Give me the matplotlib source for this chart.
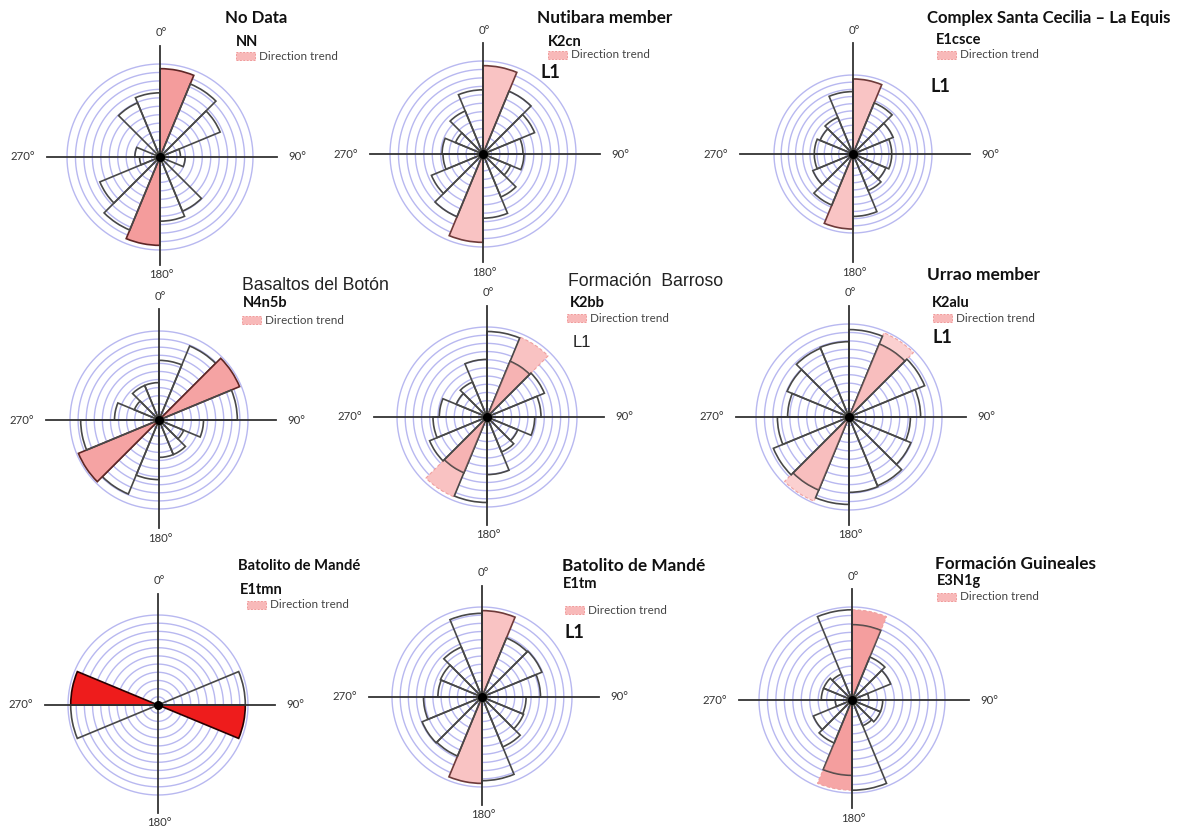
import numpy as np
import matplotlib
matplotlib.use("Agg")
import matplotlib.pyplot as plt
from matplotlib.patches import Rectangle

W, H = 1181, 831

# ---------------- data ----------------
# bins (deg) of the bidirectional rose: 0-22.5, 22.5-45, ..., 157.5-180 (mirrored at +180)
bin_starts = [0, 22.5, 45, 67.5, 90, 112.5, 135, 157.5]
bin_width = 22.5
n_rings = 11

titles = ["No Data", "Nutibara member", "Complex Santa Cecilia \u2013 La Equis",
          "Basaltos del Bot\u00f3n", "Formaci\u00f3n  Barroso", "Urrao member",
          "Batolito de Mand\u00e9", "Batolito de Mand\u00e9", "Formaci\u00f3n Guineales"]
codes = ["NN", "K2cn", "E1csce", "N4n5b", "K2bb", "K2alu", "E1tmn", "E1tm", "E3N1g"]
l1_labels = ["", "L1", "L1", "", "L1", "L1", "", "L1", ""]
deg_labels = ["0\u00b0", "90\u00b0", "180\u00b0", "270\u00b0"]
legend_label = "Direction trend"

# frequencies, % of outer ring radius
nn_vals = [95, 85, 70, 22, 27, 5, 63, 69]
k2cn_vals = [95, 73, 60, 43, 44, 32, 50, 69]
e1csce_vals = [95, 70, 55, 49, 49, 45, 50, 79]
n4n5b_vals = [67, 90, 98, 88, 50, 30, 42, 42]
k2bb_vals = [95, 67, 69, 60, 53, 37, 42, 64]
k2alu_vals = [94, 85, 88, 77, 66, 72, 80, 81]
e1tmn_vals = [0, 0, 0, 97, 97, 0, 0, 0]
e1tm_vals = [96, 71, 72, 65, 49, 50, 60, 93]
e3n1g_vals = [81, 50, 45, 18, 33, 33, 30, 97]

# trend bin index and trend sector radius (% of outer ring)
trend_bin = [0, 0, 0, 2, 1, 1, 4, 0, 0]
trend_len = [95, 95, 95, 98, 96, 98, 97, 96, 97]

values = [nn_vals, k2cn_vals, e1csce_vals, n4n5b_vals, k2bb_vals,
          k2alu_vals, e1tmn_vals, e1tm_vals, e3n1g_vals]

# ---------------- layout / style ----------------
centers = [(160, 157), (483, 154), (853, 154),
           (159, 420), (487, 417), (849, 417),
           (158, 705), (482, 697), (852, 700)]
radii = [93, 93, 79, 89, 90, 93, 90, 90, 93]
modes = ["fill", "fill", "fill", "fill", "trend", "trend", "fill", "fill", "trend"]
hl_face = ["#f49c9c", "#f9c3c3", "#f9c4c4", "#f5a3a3", "#f9c2c2",
           "#fbd0d0", "#ee1c1c", "#f9c3c3", "#f6a6a6"]
hl_edge = ["#5e2626", "#6e3a3a", "#6e3a3a", "#5e2626", "#555555",
           "#555555", "#2a0000", "#6e3a3a", "#555555"]
title_bold = [True, True, True, False, False, True, True, True, True]
title_size = [12.1, 12.4, 12.1, 12.7, 12.7, 12.5, 10.6, 12.4, 12.3]
title_pos = [(225, 18), (537, 18), (927, 18), (242, 285), (568, 281),
             (927, 275), (238, 566), (562, 566), (935, 564)]
code_pos = [(236, 42), (548, 42), (936, 40), (243, 303), (570, 303),
            (932, 303), (240, 590), (563, 584), (937, 581)]
leg_pos = [(236, 56), (548, 55), (937, 55), (242, 320), (567, 318),
           (933, 318), (247, 605), (565, 610), (937, 597)]
l1_pos = [None, (540, 72), (931, 86), None, (573, 342), (932, 337),
          None, (565, 633), None]
l1_bold = [True, True, True, False, False, True, True, True, True]

ring_color = "#b8b8f0"
bar_edge = "#484848"
axis_color = "#333333"

fig = plt.figure(figsize=(W / 100, H / 100), dpi=100)
fig.patch.set_facecolor("white")


def fx(x):
    return x / W


def fy(y):
    return 1 - y / H


SANS_BOLD = ["Lato", "DejaVu Sans"]
ARIAL = ["Liberation Sans", "DejaVu Sans"]

half = 140  # axes half size in px
theta_full = np.linspace(0, 2 * np.pi, 361)
starts = np.deg2rad(np.array(bin_starts + [b + 180 for b in bin_starts]))
wid = np.deg2rad(bin_width)

for i in range(9):
    cx, cy = centers[i]
    R = radii[i]
    scale = 100.0 / R  # data units per px
    ax = fig.add_axes([fx(cx - half), fy(cy + half), 2 * half / W, 2 * half / H],
                      projection="polar")
    ax.set_theta_zero_location("N")
    ax.set_theta_direction(-1)
    ax.set_ylim(0, half * scale)
    ax.axis("off")

    # concentric rings
    for k in range(1, n_rings + 1):
        ax.plot(theta_full, np.full_like(theta_full, 100.0 * k / n_rings),
                color=ring_color, lw=1.0, zorder=1)

    vals = np.array(values[i] + values[i], dtype=float)
    tb = trend_bin[i]
    # trend sector
    if modes[i] == "trend":
        ax.bar([starts[tb], starts[tb + 8]], [trend_len[i]] * 2, width=wid,
               align="edge", facecolor=hl_face[i], edgecolor="#f0a0a0",
               linestyle=(0, (3, 2)), lw=0.8, zorder=2)
    # histogram bars
    for j in range(16):
        if vals[j] <= 0:
            continue
        is_hl = (j % 8) == tb
        if is_hl and modes[i] == "fill":
            ax.bar(starts[j], vals[j], width=wid, align="edge",
                   facecolor=hl_face[i], edgecolor=hl_edge[i], lw=1.2, zorder=3)
        elif is_hl and modes[i] == "trend":
            ax.bar(starts[j], vals[j], width=wid, align="edge",
                   facecolor=hl_face[i], edgecolor=bar_edge, lw=1.2, zorder=3)
            ax.bar(starts[j], vals[j], width=wid, align="edge",
                   facecolor="#f08a8a", alpha=0.25, edgecolor="none", zorder=3)
        else:
            ax.bar(starts[j], vals[j], width=wid, align="edge",
                   facecolor="none", edgecolor=bar_edge, lw=1.2, zorder=3)

    # cross hair
    ax.plot([0, 0], [0, 111 * scale], color=axis_color, lw=1.3, zorder=4)
    ax.plot([np.pi, np.pi], [0, 108 * scale], color=axis_color, lw=1.3, zorder=4)
    ax.plot([np.pi / 2, np.pi / 2], [0, 117 * scale], color=axis_color, lw=1.3, zorder=4)
    ax.plot([1.5 * np.pi, 1.5 * np.pi], [0, 113 * scale], color=axis_color, lw=1.3, zorder=4)
    ax.plot([0], [0], "o", ms=5.5, color="black", zorder=5)

    # degree labels
    lab_kw = dict(ha="center", va="center", fontsize=8.2, color="#333333",
                  family=["Lato", "DejaVu Sans"])
    fig.text(fx(cx + 1), fy(cy - 124), deg_labels[0], **lab_kw)
    fig.text(fx(cx + 137), fy(cy), deg_labels[1], **lab_kw)
    fig.text(fx(cx + 1), fy(cy + 118), deg_labels[2], **lab_kw)
    fig.text(fx(cx - 137), fy(cy), deg_labels[3], **lab_kw)

    # titles
    tx, ty = title_pos[i]
    if title_bold[i]:
        fig.text(fx(tx), fy(ty), titles[i], ha="left", va="center",
                 fontsize=title_size[i], fontweight="bold", family=SANS_BOLD,
                 color="#111111")
    else:
        fig.text(fx(tx), fy(ty), titles[i], ha="left", va="center",
                 fontsize=title_size[i], family=ARIAL, color="#222222")
    # code
    kx, ky = code_pos[i]
    fig.text(fx(kx), fy(ky), codes[i], ha="left", va="center", fontsize=10.5,
             fontweight="bold", family=SANS_BOLD, color="#111111")
    # legend
    lx, ly = leg_pos[i]
    rect = Rectangle((fx(lx), fy(ly + 4)), 19 / W, 8 / H, transform=fig.transFigure,
                     facecolor="#f8b9b9", edgecolor="#f09a9a", lw=0.7,
                     linestyle=(0, (2, 1.5)))
    fig.add_artist(rect)
    fig.text(fx(lx + 23), fy(ly), legend_label, ha="left", va="center",
             fontsize=8.4, family=["Lato", "DejaVu Sans"], color="#444444")
    # L1
    if l1_pos[i] is not None:
        px, py = l1_pos[i]
        if l1_bold[i]:
            fig.text(fx(px), fy(py), l1_labels[i], ha="left", va="center",
                     fontsize=13, fontweight="bold", family=SANS_BOLD, color="#111111")
        else:
            fig.text(fx(px), fy(py), l1_labels[i], ha="left", va="center",
                     fontsize=12, family=ARIAL, color="#222222")

fig.savefig("out.png", dpi=100)
